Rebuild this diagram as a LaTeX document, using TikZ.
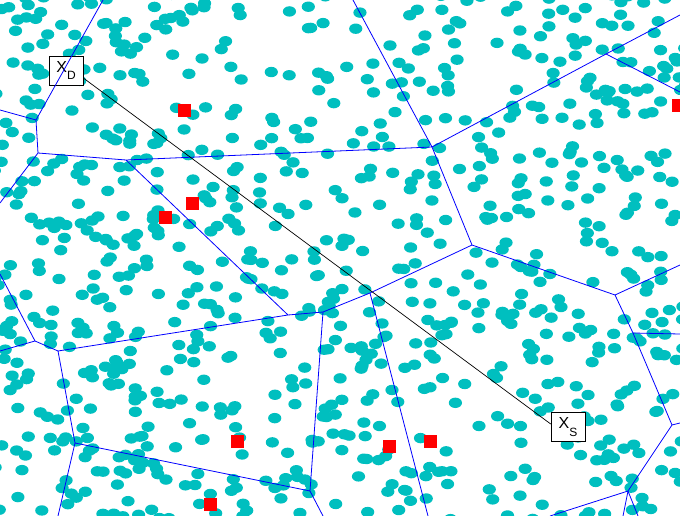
\documentclass[tikz,border=0pt]{standalone}
\usepackage{fontspec}
\setmainfont{Liberation Sans}
\definecolor{usercyan}{RGB}{0,191,191}
\tikzset{
  cell/.style={blue, line width=0.8pt},
  station/.style={fill=red, minimum size=13pt, inner sep=0pt},
  endbox/.style={draw=black, fill=white, line width=0.6pt, minimum width=34pt, minimum height=29pt, inner sep=0pt}
}
\newcommand{\xlabel}[1]{\fontsize{16}{16}\selectfont X\raisebox{-7.5pt}{\fontsize{12}{12}\selectfont #1}}

\begin{document}
\begin{tikzpicture}[x=1pt, y=-1pt]
  \useasboundingbox (0,0) rectangle (680,516);
  \begin{scope}
    \clip (0,0) rectangle (680,516);
    % users, scattered uniformly
    \pgfmathsetseed{4242}
    \foreach \k in {1,...,900}{
      \pgfmathsetmacro{\ux}{rnd*692-6}
      \pgfmathsetmacro{\uy}{rnd*528-6}
      \fill[usercyan] (\ux,\uy) ellipse [x radius=6.6pt, y radius=5.2pt];
    }

    \node[endbox] (XD) at (66,70.5) {\xlabel{D}};
    \node[endbox] (XS) at (568,427) {\xlabel{S}};

    % cell vertices
    \coordinate (A) at (36,120);
    \coordinate (B) at (38,153);
    \coordinate (C) at (126,160);
    \coordinate (D) at (432,147);
    \coordinate (E) at (606,54);
    \coordinate (F) at (472,245);
    \coordinate (G) at (370,293);
    \coordinate (H) at (323,312);
    \coordinate (I) at (288,315);
    \coordinate (J) at (58,351);
    \coordinate (K) at (35,341);
    \coordinate (L) at (75,443);
    \coordinate (M) at (310,491);
    \coordinate (N) at (615,295);
    \coordinate (O) at (633,333);
    \coordinate (P) at (672,425);
    \coordinate (Q) at (628,491);

    \draw[cell] (103,0) -- (A) (0,110) -- (A) -- (B) -- (0,203)
      (B) -- (C) -- (D) -- (353,0)
      (D) -- (E) -- (680,15) (E) -- (680,92)
      (D) -- (F) -- (G) -- (H) -- (I) -- (C)
      (I) -- (J) -- (K) -- (0,274) (K) -- (0,351)
      (J) -- (L) -- (58,516) (L) -- (M) -- (H) (M) -- (323,516)
      (G) -- (428,516)
      (F) -- (N) -- (680,265) (N) -- (O) -- (680,334)
      (O) -- (P) -- (680,423) (P) -- (Q) -- (550,516)
      (Q) -- (623,516) (Q) -- (638,516);

    % base stations
    \node[station] (s1) at (184,111) {};
    \node[station] (s2) at (192,203) {};
    \node[station] (s3) at (165,217) {};
    \node[station] (s4) at (678,106) {};
    \node[station] (s5) at (237,441) {};
    \node[station] (s6) at (210,504) {};
    \node[station] (s7) at (389,446) {};
    \node[station] (s8) at (430,441) {};

    \draw[black, line width=0.7pt] ([yshift=-7.5pt]XD.east) -- ([yshift=3pt]XS.west);
  \end{scope}
\end{tikzpicture}
\end{document}
